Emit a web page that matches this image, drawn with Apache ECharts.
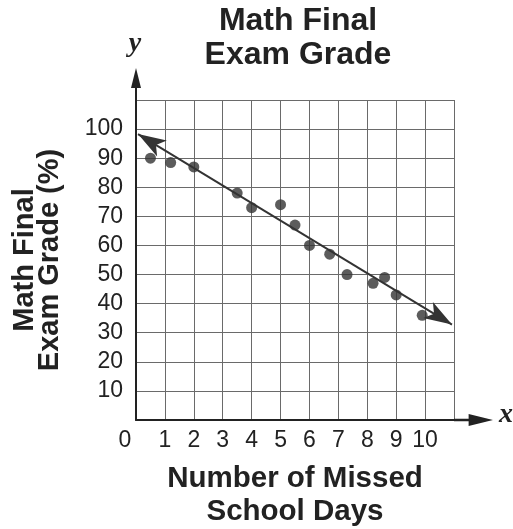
<!DOCTYPE html>
<html lang="en">
<head>
<meta charset="utf-8">
<title>Math Final Exam Grade</title>
<script src="https://cdn.jsdelivr.net/npm/echarts@6/dist/echarts.min.js"></script>
</head>
<body style="margin:0;background:#fff;">
<div id="main" style="width:513px;height:529px;"></div>
<script type="text/javascript">
// data
var missedDays = [0.5, 1.2, 2, 3.5, 4, 5, 5.5, 6, 6.7, 7.3, 8.2, 8.6, 9, 9.9];
var grades = [90, 88.5, 87, 78, 73, 74, 67, 60, 57, 50, 47, 49, 43, 36];
// line of best fit, arrow tip at each end
var trendDays = [0.07, 10.93];
var trendGrades = [98.3, 32.8];
var xLabels = ['0', '1', '2', '3', '4', '5', '6', '7', '8', '9', '10'];
var yLabels = ['10', '20', '30', '40', '50', '60', '70', '80', '90', '100'];

var font = '"Liberation Sans", Arial, sans-serif';
var ink = '#222';
// arrow head with a short stem, pointing up
var stemArrow = 'path://M5,0L10,20L6,20L6,32L4,32L4,20L0,20Z';

var points = [];
for (var i = 0; i < missedDays.length; i++) {
    points.push([missedDays[i], grades[i]]);
}

var myChart = echarts.init(document.getElementById('main'));

myChart.setOption({
    animation: false,
    title: {
        text: 'Math Final\nExam Grade',
        left: 293,
        top: -1,
        textAlign: 'center',
        textStyle: {
            fontFamily: font,
            fontSize: 32,
            fontWeight: 'bold',
            lineHeight: 34,
            color: ink
        }
    },
    grid: {
        left: 136,
        right: 59,
        top: 100,
        bottom: 109,
        containLabel: false,
        outerBoundsMode: 'none'
    },
    xAxis: {
        type: 'value',
        min: 0,
        max: 11,
        interval: 1,
        name: 'Number of Missed\nSchool Days',
        nameLocation: 'middle',
        nameGap: 42,
        nameTextStyle: {
            fontFamily: font,
            fontSize: 29.5,
            fontWeight: 'bold',
            lineHeight: 33,
            color: ink
        },
        axisLine: {
            lineStyle: { color: ink, width: 2 },
            symbol: ['none', stemArrow],
            symbolSize: [15, 39],
            symbolOffset: [0, 19.5]
        },
        axisTick: { show: false },
        axisLabel: {
            margin: 9,
            fontFamily: font,
            fontSize: 23,
            color: ink,
            formatter: function (v) {
                var s = xLabels[v];
                if (s === undefined) return '';
                return v === 0 ? '{z|' + s + '}' : s;
            },
            rich: {
                z: { fontFamily: font, fontSize: 23, color: ink, padding: [0, 22, 0, 0] }
            }
        },
        splitLine: { show: true, lineStyle: { color: '#6a6a6a', width: 1 } }
    },
    yAxis: {
        type: 'value',
        min: 0,
        max: 110,
        interval: 10,
        name: 'Math Final\nExam Grade (%)',
        nameLocation: 'middle',
        nameRotate: 90,
        nameGap: 74,
        nameTextStyle: {
            fontFamily: font,
            fontSize: 29,
            fontWeight: 'bold',
            lineHeight: 25,
            color: ink
        },
        axisLine: {
            show: true,
            lineStyle: { color: ink, width: 2 },
            symbol: ['none', stemArrow],
            symbolSize: [15, 32],
            symbolOffset: [0, 16]
        },
        axisTick: { show: false },
        axisLabel: {
            margin: 13,
            fontFamily: font,
            fontSize: 23,
            color: ink,
            formatter: function (v) {
                return yLabels.indexOf(String(v)) >= 0 ? String(v) : '';
            }
        },
        splitLine: { show: true, lineStyle: { color: '#6a6a6a', width: 1 } }
    },
    graphic: [{
        type: 'text',
        x: 135,
        y: 44,
        style: {
            text: 'y',
            font: 'italic bold 28px "Liberation Serif", serif',
            fill: ink,
            textAlign: 'center',
            textVerticalAlign: 'middle'
        }
    }, {
        type: 'text',
        x: 506,
        y: 415,
        style: {
            text: 'x',
            font: 'italic bold 28px "Liberation Serif", serif',
            fill: ink,
            textAlign: 'center',
            textVerticalAlign: 'middle'
        }
    }],
    series: [{
        type: 'scatter',
        data: points,
        symbol: 'circle',
        symbolSize: 11,
        itemStyle: { color: '#333' },
        markLine: {
            silent: true,
            symbol: ['arrow', 'arrow'],
            symbolSize: [14, 28],
            label: { show: false },
            lineStyle: { color: '#333', width: 2, type: 'solid' },
            data: [[
                { coord: [trendDays[0], trendGrades[0]] },
                { coord: [trendDays[1], trendGrades[1]] }
            ]]
        }
    }]
});
</script>
</body>
</html>
